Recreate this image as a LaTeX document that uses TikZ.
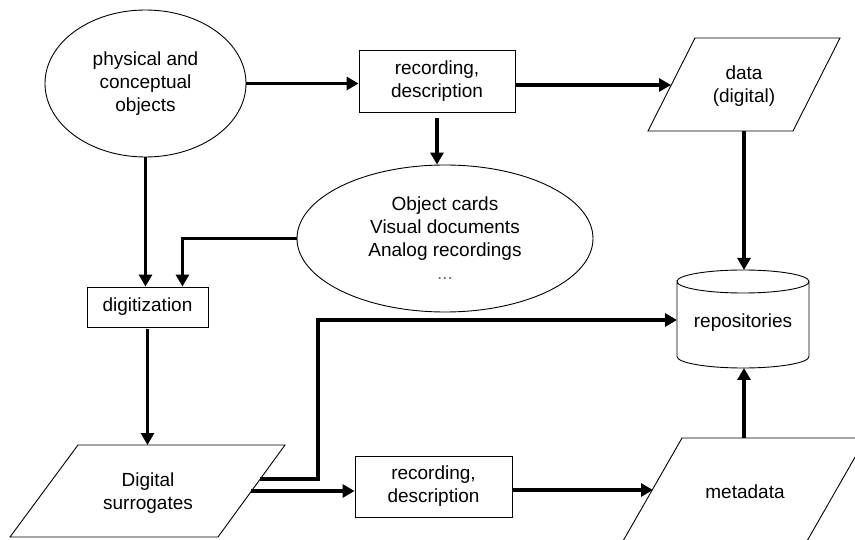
\documentclass[tikz,border=0pt]{standalone}
\usepackage{fontspec}
\setmainfont{Liberation Sans}
\usetikzlibrary{arrows.meta,shapes.geometric,calc}
\begin{document}
\begin{tikzpicture}[x=1pt,y=-1pt,
  every node/.style={font=\fontsize{19}{23}\selectfont, align=center, inner sep=0pt},
  shapeline/.style={draw=black, line width=0.9pt},
  ell/.style={shapeline, ellipse},
  box/.style={shapeline, rectangle},
  arr/.style={line width=3.2pt, -{Triangle[length=12pt,width=13pt]}}]
\useasboundingbox (0,0) rectangle (855,540);

% nodes
\node[ell, minimum width=201pt, minimum height=147pt] (e1) at (145.5,83.5) {physical and\\conceptual\\objects};
\node[box, minimum width=156pt, minimum height=62pt] (rec1) at (437,81) {recording,\\description};
\node[ell, minimum width=296pt, minimum height=147pt] (e2) at (445,238.5) {Object cards\\Visual documents\\Analog recordings\\\textcolor{black!55}{...}};
\node[box, minimum width=121pt, minimum height=40pt] (digit) at (147.5,307) {digitization};
\node[box, minimum width=157pt, minimum height=61pt] (rec2) at (433.5,486.5) {recording,\\description};

% data parallelogram
\draw[shapeline] (695,38) -- (840,38) -- (793,131) -- (648,131) -- cycle;
\node (data) at (744,86) {data\\(digital)};
\coordinate (dataL) at (671,85);
\coordinate (dataB) at (744,131);

% surrogates parallelogram
\draw[shapeline] (78,445) -- (285,445) -- (218,537) -- (10,537) -- cycle;
\node (surr) at (148,493) {Digital\\surrogates};
\coordinate (surrT) at (147.5,445);
\coordinate (surrA) at (260,479);
\coordinate (surrB) at (251,491);
\coordinate (bend) at (318,320);

% metadata parallelogram
\draw[shapeline] (682,438) -- (866,438) -- (803,548) -- (619,548) -- cycle;
\node (meta) at (745,492) {metadata};
\coordinate (metaL) at (653,490);
\coordinate (metaT) at (744,438);

% cylinder
\draw[shapeline] (677,281.5) arc[start angle=180,end angle=360,x radius=66,y radius=11.5]
  arc[start angle=0,end angle=180,x radius=66,y radius=11.5] -- (677,356.5)
  arc[start angle=180,end angle=0,x radius=66,y radius=11.5] -- (809,281.5);
\node (repo) at (743,323) {repositories};
\coordinate (cylT) at (744,270);
\coordinate (cylB) at (744,368);
\coordinate (cylL) at (677,320);

% connectors
\draw[arr] (e1.east) -- (e1.east -| rec1.west);
\draw[arr] (rec1.east |- dataL) -- (dataL);
\draw[arr, shorten <=6pt] (rec1.south) -- (rec1.south |- e2.north);
\draw[arr] (e1.south) -- (e1.south |- digit.north);
\draw[arr] (e2.west) -| ($(digit.north east)+(-26,0)$);
\draw[arr, shorten <=2pt] (digit.south) -- (surrT);
\draw[arr] (dataB) -- (cylT);
\draw[arr] (surrA) -| (bend) -- (cylL);
\draw[arr] (surrB) -- (surrB -| rec2.west);
\draw[arr] (rec2.east |- metaL) -- (metaL);
\draw[arr] (metaT) -- (cylB);
\end{tikzpicture}
\end{document}
